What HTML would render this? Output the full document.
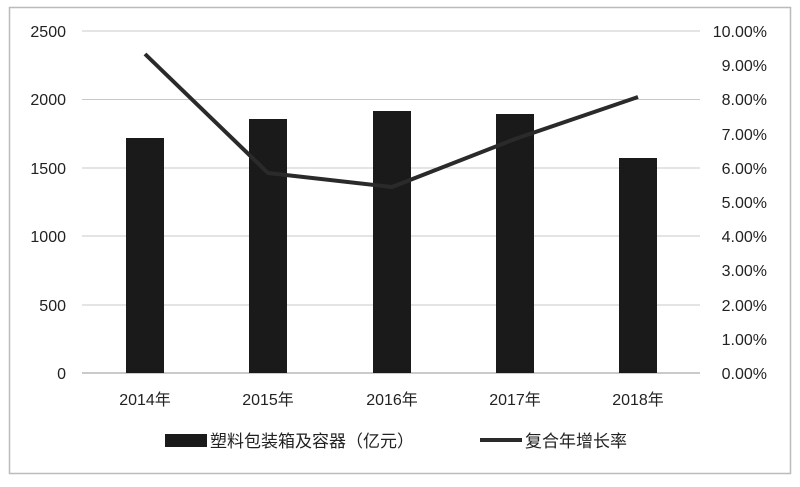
<!DOCTYPE html>
<html><head><meta charset="utf-8"><style>
body{margin:0;background:#fff;}
svg text{font-family:"Liberation Sans","Noto Sans CJK SC",sans-serif;fill:#222;}
</style></head><body>
<svg width="800" height="482" xmlns="http://www.w3.org/2000/svg">
<rect x="0" y="0" width="800" height="482" fill="#fff"/>
<rect x="9.5" y="7.5" width="781" height="466" fill="none" stroke="#bbb" stroke-width="1.5"/>
<g stroke="#c8c8c8" stroke-width="1">
<line x1="82" x2="700" y1="31" y2="31"/>
<line x1="82" x2="700" y1="99.5" y2="99.5"/>
<line x1="82" x2="700" y1="168" y2="168"/>
<line x1="82" x2="700" y1="236" y2="236"/>
<line x1="82" x2="700" y1="305" y2="305"/>
</g>
<line x1="82" x2="700" y1="373" y2="373" stroke="#aaa" stroke-width="1.2"/>
<g fill="#1a1a1a">
<rect x="126" y="138" width="38" height="235"/>
<rect x="249" y="119" width="38" height="254"/>
<rect x="373" y="111" width="38" height="262"/>
<rect x="496" y="114" width="38" height="259"/>
<rect x="619" y="158" width="38" height="215"/>
</g>
<polyline points="145,54 268,173 392,187 515,139 638,97" fill="none" stroke="#2a2a2a" stroke-width="4" stroke-linejoin="round"/>
<g font-size="16" text-anchor="end">
<text x="66" y="37">2500</text><text x="66" y="105">2000</text><text x="66" y="174">1500</text>
<text x="66" y="242">1000</text><text x="66" y="311">500</text><text x="66" y="379">0</text>
</g>
<g font-size="16" text-anchor="end">
<text x="767" y="37">10.00%</text><text x="767" y="71">9.00%</text><text x="767" y="105">8.00%</text>
<text x="767" y="140">7.00%</text><text x="767" y="174">6.00%</text><text x="767" y="208">5.00%</text>
<text x="767" y="242">4.00%</text><text x="767" y="276">3.00%</text><text x="767" y="311">2.00%</text>
<text x="767" y="345">1.00%</text><text x="767" y="379">0.00%</text>
</g>
<g font-size="16" text-anchor="middle">
<text x="145" y="405">2014年</text><text x="268" y="405">2015年</text><text x="392" y="405">2016年</text>
<text x="515" y="405">2017年</text><text x="638" y="405">2018年</text>
</g>
<rect x="165" y="434" width="42" height="13" fill="#1a1a1a"/>
<text x="210" y="447" font-size="17">塑料包装箱及容器（亿元）</text>
<line x1="480" x2="522" y1="440" y2="440" stroke="#2a2a2a" stroke-width="4"/>
<text x="525" y="447" font-size="17">复合年增长率</text>
</svg>
</body></html>
